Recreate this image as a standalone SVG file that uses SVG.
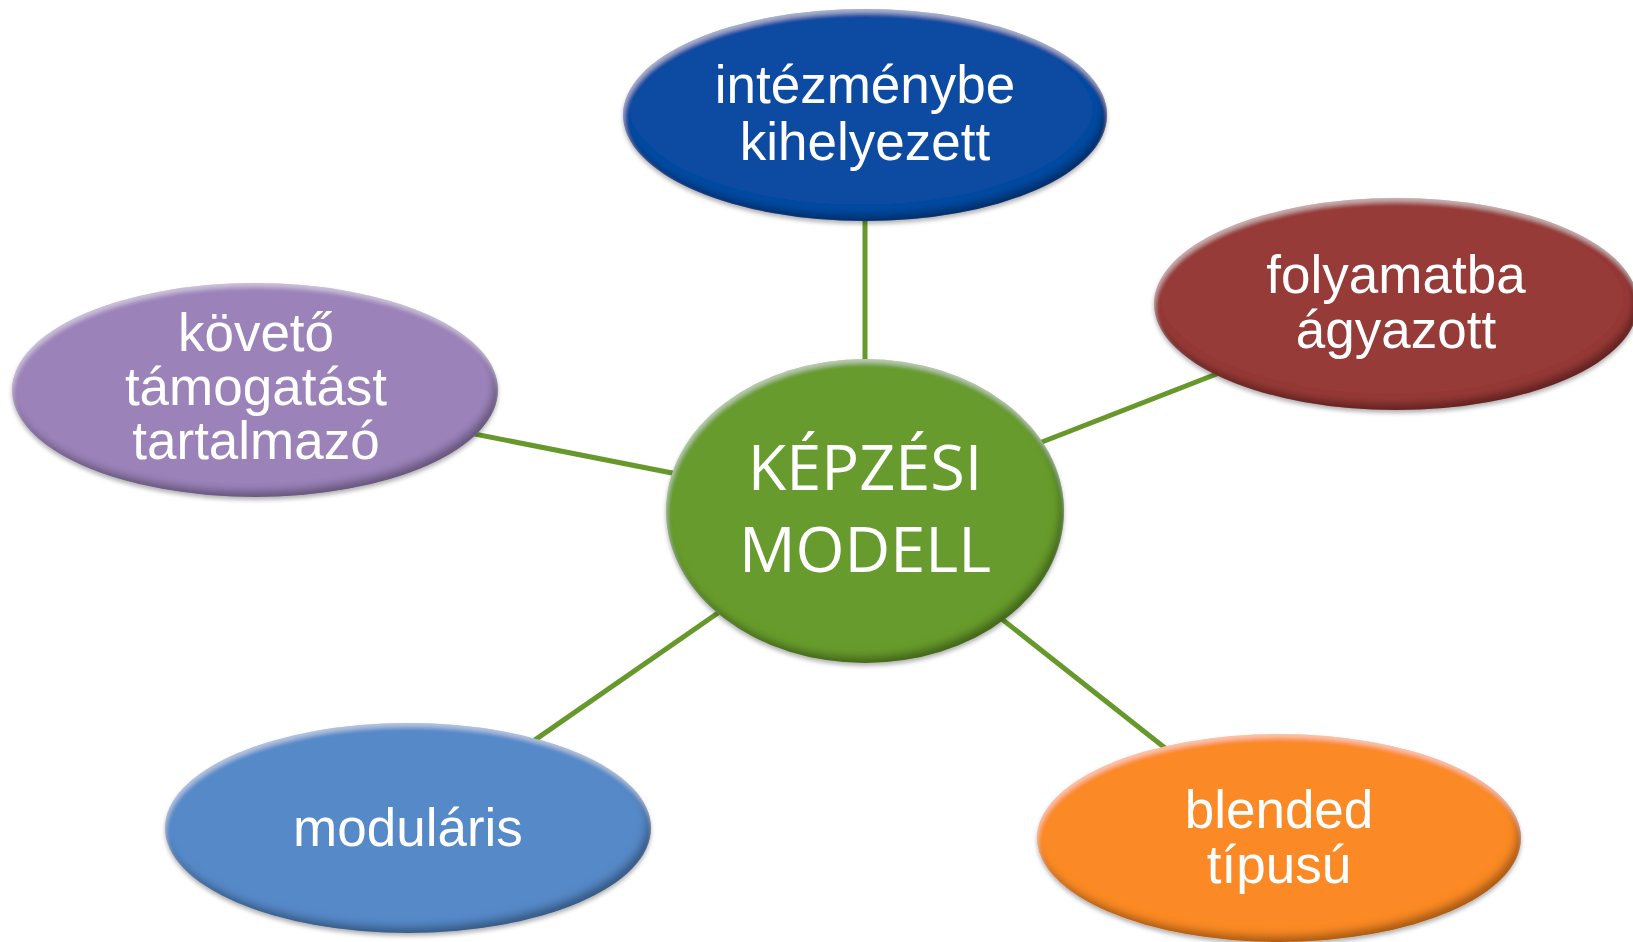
<svg xmlns="http://www.w3.org/2000/svg" width="1633" height="942" viewBox="0 0 1633 942">
<style>
.lbl{font-family:"Liberation Sans",Arial,sans-serif;font-size:53px;fill:#fff;text-anchor:middle}
.core{font-family:"Open Sans","Liberation Sans",sans-serif;font-size:63px;fill:#fff;text-anchor:middle}
.conn{stroke:#66982c;stroke-width:5;fill:none}
.node{filter:url(#bevel)}
</style>
<defs>
<filter id="bevel" x="-5%" y="-8%" width="110%" height="118%">
<feGaussianBlur in="SourceAlpha" stdDeviation="4" result="b"/>
<feOffset in="b" dx="-4" dy="-6" result="up"/>
<feComposite in="SourceAlpha" in2="up" operator="out" result="darkEdge"/>
<feFlood flood-color="#000" flood-opacity="0.6"/>
<feComposite in2="darkEdge" operator="in" result="dark"/>
<feGaussianBlur in="SourceAlpha" stdDeviation="2" result="b2"/>
<feOffset in="b2" dx="1" dy="4" result="down"/>
<feComposite in="SourceAlpha" in2="down" operator="out" result="lightEdge"/>
<feFlood flood-color="#fff" flood-opacity="0.4"/>
<feComposite in2="lightEdge" operator="in" result="light"/>
<feOffset in="SourceAlpha" dx="0" dy="3" result="sh0"/>
<feGaussianBlur in="sh0" stdDeviation="2" result="sh1"/>
<feFlood flood-color="#000" flood-opacity="0.3"/>
<feComposite in2="sh1" operator="in" result="shadow"/>
<feMerge><feMergeNode in="shadow"/><feMergeNode in="SourceGraphic"/><feMergeNode in="dark"/><feMergeNode in="light"/></feMerge>
</filter>
</defs>
<rect width="1633" height="942" fill="#fff"/>
<g id="connectors">
<line class="conn" x1="865" y1="511" x2="865" y2="115"/>
<line class="conn" x1="865" y1="511" x2="1396" y2="304"/>
<line class="conn" x1="865" y1="511" x2="251" y2="390"/>
<line class="conn" x1="865" y1="511" x2="408" y2="828"/>
<line class="conn" x1="865" y1="511" x2="1279" y2="838"/>
</g>
<g id="node-top">
<ellipse class="node" cx="865" cy="115" rx="242" ry="106" fill="#0e4ba2"/>
<text class="lbl" x="865" y="103">intézménybe</text>
<text class="lbl" x="865" y="160">kihelyezett</text>
</g>
<g id="node-right">
<ellipse class="node" cx="1396" cy="304" rx="242" ry="106" fill="#963a38"/>
<text class="lbl" x="1396" y="293">folyamatba</text>
<text class="lbl" x="1396" y="348">ágyazott</text>
</g>
<g id="node-left">
<ellipse class="node" cx="255" cy="390" rx="243" ry="107" fill="#9b83ba"/>
<text class="lbl" x="256" y="351">követő</text>
<text class="lbl" x="256" y="405">támogatást</text>
<text class="lbl" x="256" y="459">tartalmazó</text>
</g>
<g id="node-bottom-left">
<ellipse class="node" cx="408" cy="828" rx="243" ry="105" fill="#5689c8"/>
<text class="lbl" x="408" y="846">moduláris</text>
</g>
<g id="node-bottom-right">
<ellipse class="node" cx="1279" cy="838" rx="242" ry="104" fill="#fb8a25"/>
<text class="lbl" x="1279" y="828">blended</text>
<text class="lbl" x="1279" y="883">típusú</text>
</g>
<g id="node-center">
<ellipse class="node" cx="865" cy="511" rx="199" ry="152" fill="#689b2e"/>
<text class="core" x="865" y="490">KÉPZÉSI</text>
<text class="core" x="865" y="572">MODELL</text>
</g>
</svg>
